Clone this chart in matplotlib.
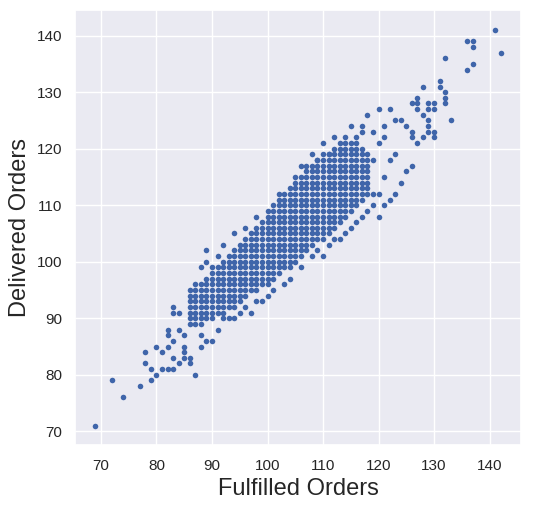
import matplotlib
matplotlib.use("Agg")
import matplotlib.pyplot as plt
import seaborn as sns

sns.set_theme(style="darkgrid")
plt.rcParams["font.family"] = ["Liberation Sans", "DejaVu Sans"]

# dense core of the cloud: fulfilled value -> (lowest, highest) delivered value
dense_cols = {
    86: (89, 93), 87: (89, 95), 88: (89, 96), 89: (90, 97), 90: (90, 98),
    91: (91, 99), 92: (91, 100), 93: (92, 101), 94: (92, 102), 95: (93, 103),
    96: (94, 104), 97: (95, 105), 98: (95, 106), 99: (96, 107), 100: (96, 109),
    101: (97, 110), 102: (98, 111), 103: (99, 112), 104: (99, 113), 105: (100, 114),
    106: (101, 115), 107: (102, 116), 108: (103, 117), 109: (104, 118), 110: (104, 119),
    111: (105, 119), 112: (106, 120), 113: (107, 120), 114: (108, 121), 115: (109, 121),
    116: (110, 121), 117: (111, 120), 118: (112, 119),
}

# sparse points around the edges and in the tails
extra_x = [69, 72, 74, 77, 79, 79, 80, 78, 78, 81, 82, 83, 81, 80, 82, 83, 83, 84, 85, 85,
           85, 86, 86, 87, 82, 82, 83, 83, 84, 86, 86, 87, 88, 88, 84, 85, 89, 90, 91, 92,
           88, 89, 93, 94, 95, 96, 97, 98, 99, 100, 101, 103, 104, 106, 108, 109, 110, 111,
           112, 113, 114, 115, 116, 117, 118, 119, 119, 119, 120, 120, 120, 120, 121, 121,
           121, 122, 122, 122, 123, 123, 123, 124, 124, 125, 125, 126, 126, 126, 126, 127,
           127, 127, 127, 128, 128, 128, 129, 129, 129, 129, 129, 130, 130, 130, 130, 131,
           131, 132, 132, 132, 132, 133, 136, 136, 137, 137, 137, 141, 142,
           116, 117, 118, 114, 113, 111, 109, 107, 105, 102, 98, 96, 94, 92, 91, 90, 89,
           106, 108, 110, 112, 115, 117, 119, 121]
extra_y = [71, 79, 76, 78, 79, 81, 80, 82, 84, 81, 81, 81, 84, 85, 85, 86, 83, 82, 83, 85,
           84, 83, 82, 80, 88, 87, 91, 92, 91, 94, 95, 96, 87, 85, 88, 87, 86, 86, 88, 90,
           99, 100, 90, 90, 91, 92, 91, 93, 93, 94, 95, 96, 97, 99, 101, 102, 101, 103,
           104, 104, 105, 106, 107, 108, 109, 110, 112, 118, 108, 112, 121, 127, 110, 115,
           122, 111, 118, 127, 112, 119, 125, 114, 125, 116, 124, 117, 122, 123, 128, 121,
           127, 128, 129, 122, 126, 131, 123, 124, 125, 127, 128, 122, 123, 127, 128, 131,
           132, 128, 129, 130, 136, 125, 134, 139, 135, 138, 139, 141, 137,
           122, 123, 126, 122, 121, 119, 118, 117, 115, 112, 108, 106, 105, 103, 101, 99, 102,
           117, 119, 121, 122, 124, 124, 123, 124]

xs, ys = [], []
for x, (lo, hi) in dense_cols.items():
    for y in range(lo, hi + 1):
        xs.append(x)
        ys.append(y)
xs += extra_x
ys += extra_y

fig, ax = plt.subplots(figsize=(5.37, 5.12), dpi=100)
ax.scatter(xs, ys, s=16, color="#3F65AA", linewidths=0)
ax.set_xlabel("Fulfilled Orders", fontsize=17)
ax.set_ylabel("Delivered Orders", fontsize=17)
ax.tick_params(labelsize=11)
fig.subplots_adjust(left=0.14, right=0.97, bottom=0.13, top=0.98)
fig.savefig("out.png")
